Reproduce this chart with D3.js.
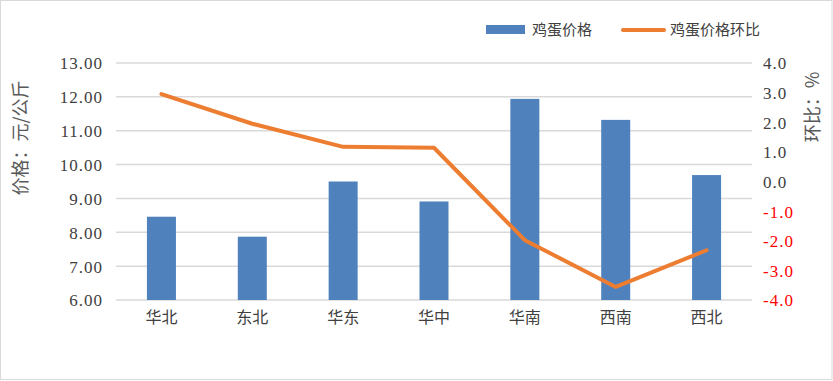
<!DOCTYPE html>
<html><head><meta charset="utf-8">
<script src="https://cdn.jsdelivr.net/npm/d3@7"></script>
<style>
html,body{margin:0;padding:0;background:#fff;}
svg{display:block;}
</style></head>
<body>
<svg id="chart" width="833" height="381"></svg>
<script>
const categories = ["华北","东北","华东","华中","华南","西南","西北"];
const priceValues = [8.46, 7.87, 9.50, 8.91, 11.94, 11.32, 9.69];
const momValues = [2.95, 1.95, 1.17, 1.14, -1.98, -3.56, -2.32];
const leftTicks = [6,7,8,9,10,11,12,13];
const rightTicks = [-4,-3,-2,-1,0,1,2,3,4];
const seriesNames = ["鸡蛋价格","鸡蛋价格环比"];

const svg = d3.select("#chart");
const W = 833, H = 381;
const m = {left:116, right:81, top:63, bottom:81};
const x0 = m.left, x1 = W - m.right, yTop = m.top, yBot = H - m.bottom;

svg.append("rect").attr("x",0.5).attr("y",0.5).attr("width",W-1.5).attr("height",H-2)
  .attr("fill","#fff").attr("stroke","#d9d9d9").attr("stroke-width",1);

const x = d3.scaleBand().domain(categories).range([x0,x1]).paddingInner(0).paddingOuter(0);
const yL = d3.scaleLinear().domain([6,13]).range([yBot,yTop]);
const yR = d3.scaleLinear().domain([-4,4]).range([yBot,yTop]);

const numFont = "Liberation Serif";
const cjkFont = "Noto Sans CJK SC";

// gridlines
svg.append("g").selectAll("line").data(leftTicks).join("line")
  .attr("x1",x0).attr("x2",x1)
  .attr("y1",d=>yL(d)).attr("y2",d=>yL(d))
  .attr("stroke","#d9d9d9").attr("stroke-width",1.5);

// left axis labels
const gL = svg.append("g").attr("transform",`translate(${x0-13},0)`)
  .call(d3.axisLeft(yL).tickValues(leftTicks).tickFormat(d3.format(".2f")).tickSize(0).tickPadding(0));
gL.attr("font-family",numFont).attr("font-size",17);
gL.select(".domain").remove();
gL.selectAll("text").attr("fill","#404040")
  .attr("letter-spacing","1px").attr("dy","0.35em");

// right axis labels
const gR = svg.append("g").attr("transform",`translate(${x1+11},0)`)
  .call(d3.axisRight(yR).tickValues(rightTicks).tickFormat(d3.format(".1f")).tickSize(0).tickPadding(0));
gR.attr("font-family",numFont).attr("font-size",17);
gR.select(".domain").remove();
gR.selectAll("text")
  .attr("fill",d=>d<0?"#ff0000":"#404040").attr("letter-spacing","1px").attr("dy","0.35em")
  .text(d=> d<0 ? "-"+d3.format(".1f")(-d) : d3.format(".1f")(d));

// bars
const barW = 29;
svg.append("g").selectAll("rect").data(categories).join("rect")
  .attr("x",(d)=>x(d)+x.bandwidth()/2-barW/2)
  .attr("width",barW)
  .attr("y",(d,i)=>yL(priceValues[i]))
  .attr("height",(d,i)=>yL(6)-yL(priceValues[i]))
  .attr("fill","#4f81bd");

// line
const line = d3.line().x((d,i)=>x(categories[i])+x.bandwidth()/2).y(d=>yR(d));
svg.append("path").datum(momValues).attr("d",line)
  .attr("fill","none").attr("stroke","#ed7d31").attr("stroke-width",4)
  .attr("stroke-linejoin","round").attr("stroke-linecap","round");

// category labels
const gX = svg.append("g").attr("transform",`translate(0,${yBot+12})`)
  .call(d3.axisBottom(x).tickSize(0).tickPadding(0));
gX.attr("font-family",cjkFont).attr("font-size",16);
gX.select(".domain").remove();
gX.selectAll("text").attr("fill","#404040").attr("dy","0.71em");

// axis titles
svg.append("text").attr("transform","translate(27,138) rotate(-90)")
  .attr("text-anchor","middle").attr("font-family",cjkFont).attr("font-size",18)
  .attr("fill","#595959").text("价格：元/公斤");
svg.append("text").attr("transform","translate(819,107) rotate(-90)")
  .attr("text-anchor","middle").attr("font-family",cjkFont).attr("font-size",18)
  .attr("fill","#595959").text("环比：%");

// legend
const lg = svg.append("g");
lg.append("rect").attr("x",486).attr("y",25).attr("width",39).attr("height",9).attr("fill","#4f81bd");
lg.append("text").attr("x",532).attr("y",30).attr("dy","0.35em").attr("font-family",cjkFont)
  .attr("font-size",15).attr("fill","#404040").text(seriesNames[0]);
lg.append("line").attr("x1",623).attr("x2",664).attr("y1",30).attr("y2",30)
  .attr("stroke","#ed7d31").attr("stroke-width",4).attr("stroke-linecap","round");
lg.append("text").attr("x",670).attr("y",30).attr("dy","0.35em").attr("font-family",cjkFont)
  .attr("font-size",15).attr("fill","#404040").text(seriesNames[1]);
</script>
</body></html>
